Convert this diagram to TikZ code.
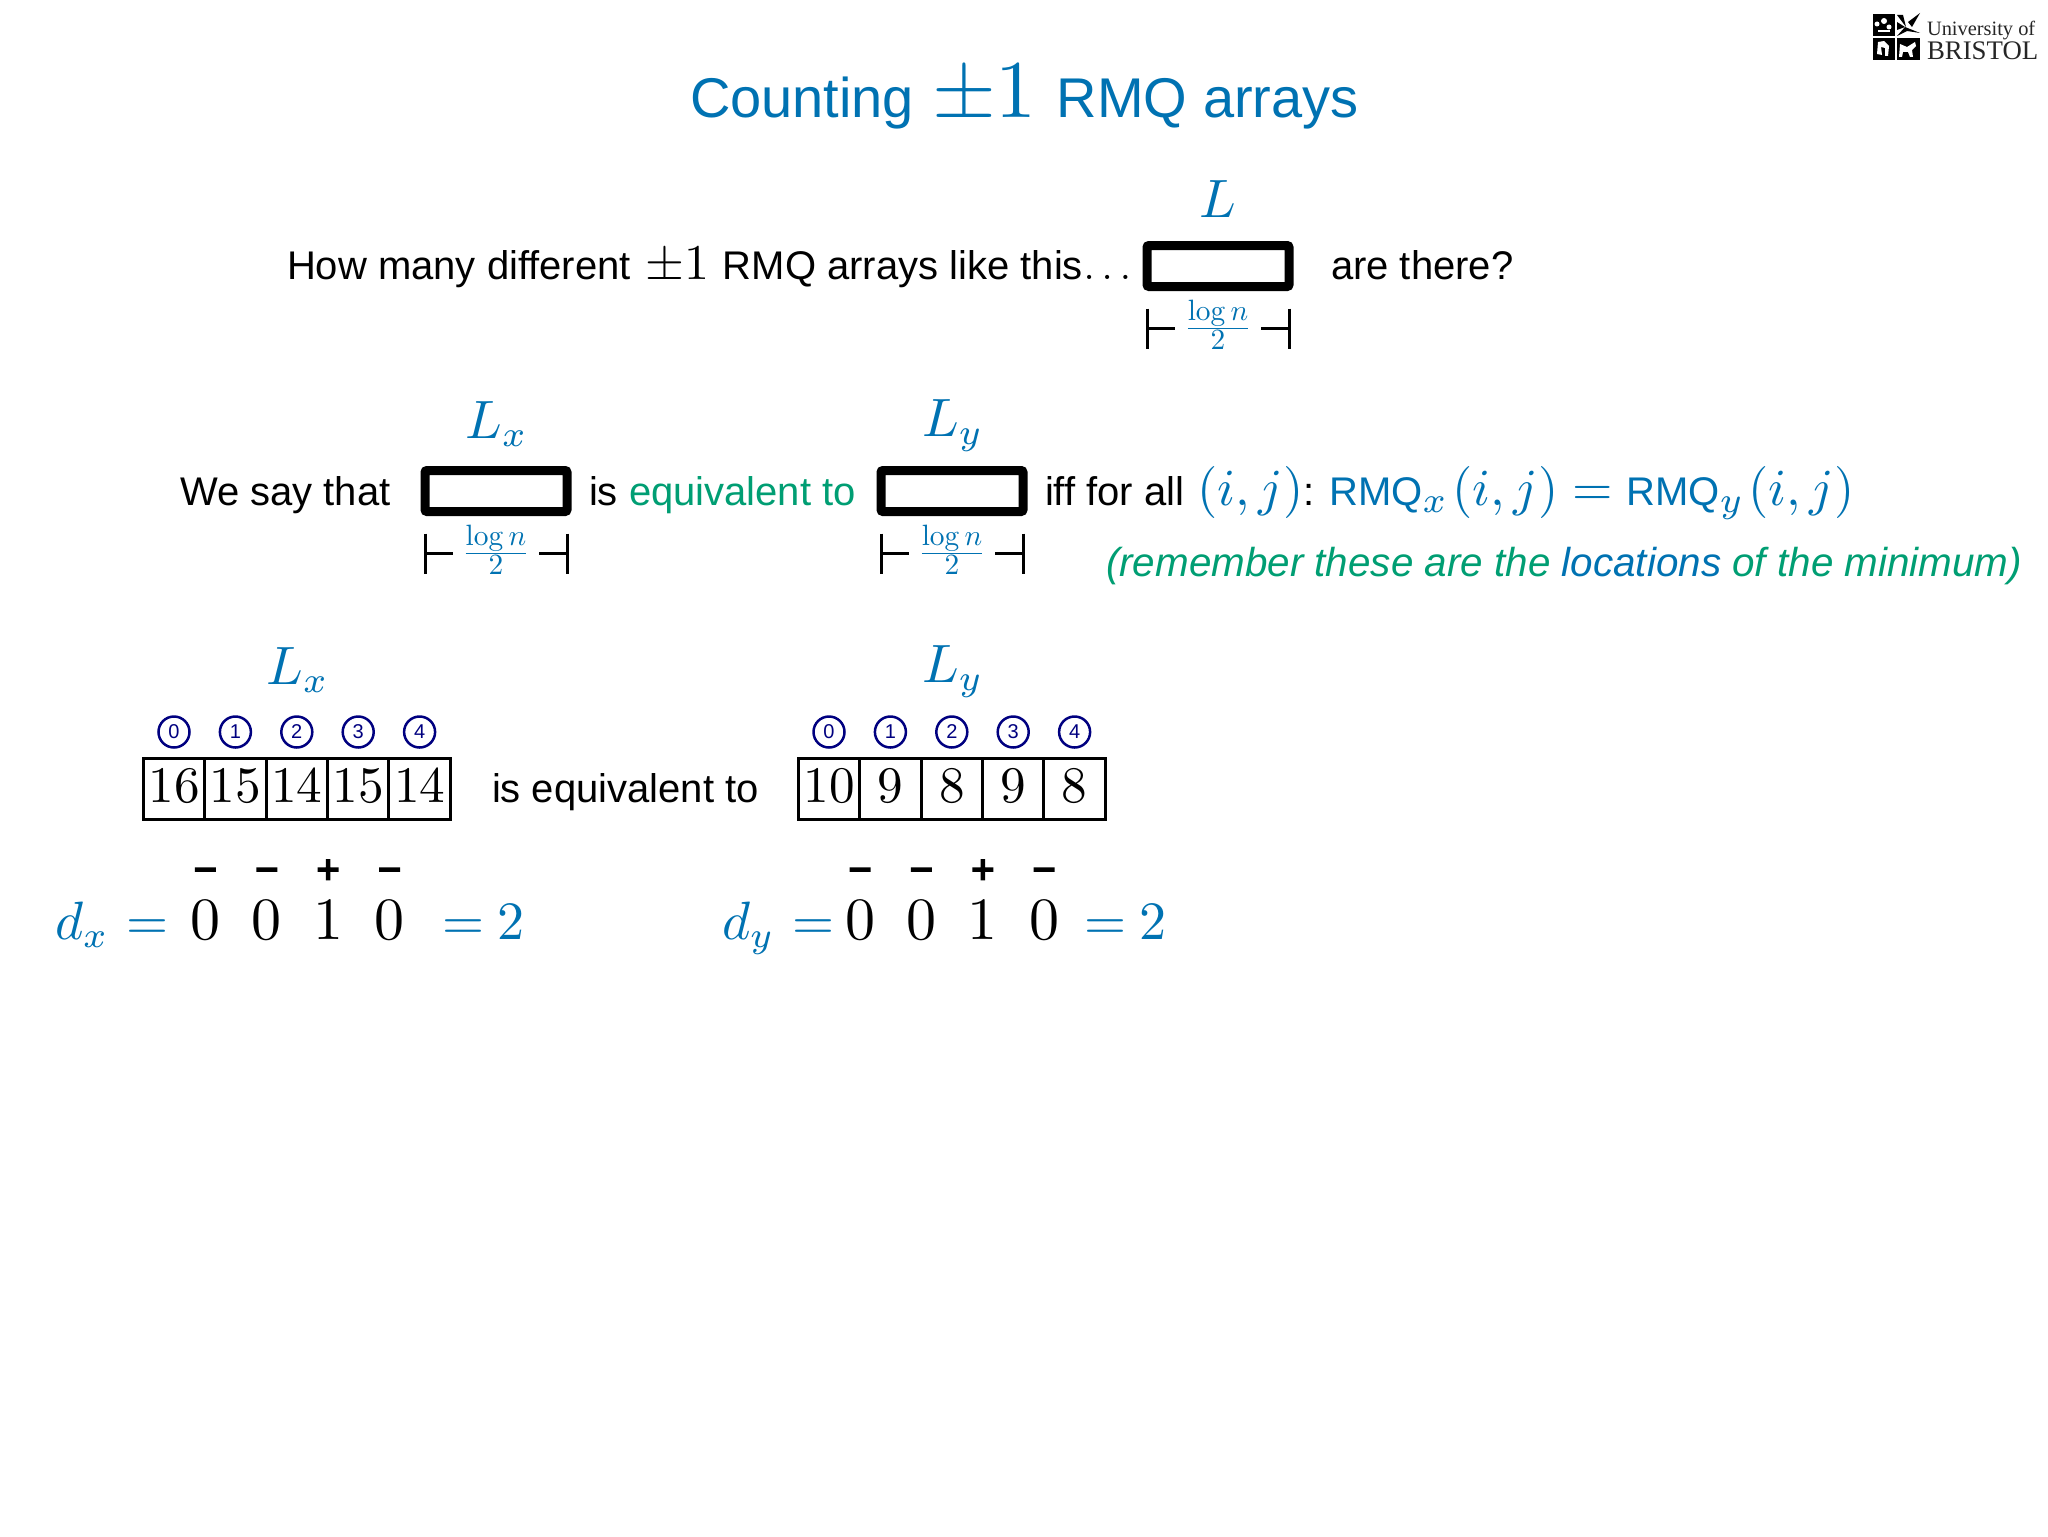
\documentclass[tikz,border=0pt]{standalone}
\usepackage[no-math]{fontspec}
\setmainfont{Liberation Sans}
\newfontfamily\logofont{Liberation Serif}
\newfontfamily\sgnfont[FakeBold=4]{Liberation Sans}
\usetikzlibrary{calc}
\DeclareFontShape{OT1}{cmr}{m}{n}{<->cmr10}{}
\DeclareFontShape{OML}{cmm}{m}{it}{<-16>cmmi10 <16-24>cmmi7 <24->cmmi10}{\skewchar\font=127 }
\DeclareFontShape{OMS}{cmsy}{m}{n}{<->cmsy10}{\skewchar\font=48 }
\DeclareFontShape{OMX}{cmex}{m}{n}{<->cmex10}{}
\DeclareMathSizes{27}{27}{18}{14}
\DeclareMathSizes{26}{26}{18}{14}
\DeclareMathSizes{21}{21}{14.7}{11}
\definecolor{tblue}{RGB}{0,114,178}
\definecolor{tgreen}{RGB}{0,158,115}
\definecolor{navy}{RGB}{0,0,128}
\newcommand{\tsize}{\fontsize{20}{24}\selectfont}
\newcommand{\msize}{\fontsize{27}{30}\selectfont}
\newcommand{\nsize}{\fontsize{26}{30}\selectfont}
\tikzset{
  txt/.style={inner sep=0pt,outer sep=0pt,anchor=base west,text=black,font=\tsize},
  mth/.style={inner sep=0pt,outer sep=0pt,anchor=base,text=tblue,font=\msize},
  thickbox/.style={draw=black,line width=4.5pt,minimum width=71pt,minimum height=20.5pt,inner sep=0pt,outer sep=0pt,rounded corners=1pt},
  dimline/.style={draw=black,line width=1.5pt},
  frc/.style={inner sep=0pt,outer sep=0pt,anchor=base,text=tblue,font=\fontsize{21}{24}\selectfont},
  cellbox/.style={draw=black,line width=1.5pt,minimum width=30.7pt,minimum height=30.5pt,inner sep=0pt,outer sep=0pt,text height=20pt,text depth=6pt,text=black,font=\fontsize{25.6}{28}\selectfont},
  idx/.style={circle,draw=navy,line width=1.25pt,minimum size=15.5pt,inner sep=0pt,outer sep=0pt,text=navy,font=\fontsize{10}{12}\selectfont},
  sgn/.style={inner sep=0pt,outer sep=0pt,anchor=base,text=black,font=\sgnfont\fontsize{20}{22}\selectfont},
  bit/.style={inner sep=0pt,outer sep=0pt,anchor=base,text=black,font=\fontsize{30}{32}\selectfont},
}
\newcommand{\dimmark}[2]{%
  \coordinate (#1L) at ([yshift=-#2 pt]#1.south west);
  \coordinate (#1R) at ([yshift=-#2 pt]#1.south east);
  \draw[dimline] ([yshift=10pt]#1L) -- ([yshift=-10pt]#1L);
  \draw[dimline] ([yshift=10pt]#1R) -- ([yshift=-10pt]#1R);
  \draw[dimline] (#1L) -- ([xshift=14pt]#1L);
  \draw[dimline] (#1R) -- ([xshift=-14pt]#1R);
  \node[frc] at ($(#1L)!0.5!(#1R)+(0,-5.25pt)$) {$\frac{\log n}{\smash{\raisebox{2.2pt}{$\scriptstyle 2$}}}$};
}
\begin{document}
\begin{tikzpicture}[x=0.5pt,y=-0.5pt]
\path[use as bounding box,fill=white] (0,0) rectangle (2048,1536);

% logo
\fill[black] (1873,14) rectangle (1894.5,36);
\fill[black] (1896.5,38) rectangle (1920,60.5);
\fill[black] (1873,38) rectangle (1894.5,60.5);
\fill[black] (1897,15) -- (1903,15) -- (1906,27) -- cycle;
\fill[black] (1908,22) -- (1920,13) -- (1912,27) -- cycle;
\fill[black] (1897,36) -- (1905,27) -- (1920,33) -- (1907,31) -- cycle;
\fill[black] (1897,22) -- (1905,27) -- (1897,30) -- cycle;
\fill[white] (1877,24) circle (2.5);
\fill[white] (1884,21) circle (3);
\fill[white] (1889,27) circle (2.5);
\fill[white] (1878,30) rectangle (1890,32);
\fill[white] (1878,42) -- (1884,41) -- (1889,46) -- (1888,56) -- (1885,56) -- (1885,48) -- (1881,47) -- (1882,55) -- (1877,54) -- cycle;
\fill[white] (1900,44) -- (1907,47) -- (1915,42) -- (1916,46) -- (1912,50) -- (1913,57) -- (1910,57) -- (1908,52) -- (1903,52) -- (1902,57) -- (1899,57) -- cycle;
\node[txt,text=black!85,font=\logofont\fontsize{10.2}{12}\selectfont] (logoa) at (1927,36) {University of};
\node[txt,text=black!85,font=\logofont\fontsize{13.4}{14}\selectfont] (logob) at (1927,60) {BRISTOL};

% title
\node[txt,text=tblue,font=\fontsize{28}{32}\selectfont] (title) at (690,117.5) {Counting\kern1.2pt{} {\fontsize{41}{44}\selectfont$\pm 1$}\kern2.2pt{} RMQ arrays};

% line 1
\node[txt] (q1) at (287,279.5) {How many different\kern2pt{} {\fontsize{25}{28}\selectfont$\pm 1$}\kern1pt{} RMQ arrays like this{\fontsize{18}{24}\selectfont$\ldots$}};
\node[thickbox] (b0) at (1218,266) {};
\node[mth] (l0) at (1218,217) {$L$};
\node[txt] (q2) at (1331,279.5) {are there?};
\dimmark{b0}{21}

% line 2
\node[txt] (w1) at (180,505) {We say that};
\node[thickbox] (b1) at (496,491) {};
\node[mth] (l1) at (496,438) {$L_x$};
\dimmark{b1}{21}
\node[txt] (w2) at (589,505) {is \textcolor{tgreen}{equivalent to}};
\node[thickbox] (b2) at (952,491) {};
\node[mth] (l2) at (952,436) {$L_y$};
\dimmark{b2}{21}
\node[txt] (w3) at (1045,505) {iff for all\kern1pt{} \textcolor{tblue}{\nsize$(i,j)$}: \textcolor{tblue}{RMQ{\nsize$_x\mkern2mu(i,j)=$}\kern1pt{} RMQ{\nsize$_y\mkern2mu(i,j)$}}};
\node[txt,text=tgreen,font=\fontsize{20.2}{24}\selectfont\itshape] (rem) at (1106,576) {(remember these are the \textcolor{tblue}{locations} of the minimum)};

% left array
\node[mth] (lx) at (297,684) {$L_x$};
\foreach \i/\v/\xx in {0/16/174,1/15/235.4,2/14/296.8,3/15/358.2,4/14/419.6}{
  \node[cellbox] (a\i) at (\xx,788.5) {$\v$};
  \node[idx] (ai\i) at (\xx,732) {\i};
}
\node[txt] (eq) at (492,802) {is equivalent to};
\node[mth,anchor=base west] (dx) at (55,939) {$d_x\mkern1.3mu =$};
\foreach \i/\s/\v/\xx in {0/−/0/205.4,1/−/0/266.8,2/+/1/328.2,3/−/0/389.6}{
  \node[sgn] (as\i) at (\xx,883) {\s};
  \node[bit] (ab\i) at (\xx,939) {$\v$};
}
\node[mth,anchor=base west] (dxr) at (442,939) {${=}\mkern4.5mu 2$};

% right array
\node[mth] (ly) at (952,682) {$L_y$};
\foreach \i/\v/\xx in {0/10/829,1/9/890.4,2/8/951.8,3/9/1013.2,4/8/1074.6}{
  \node[cellbox] (c\i) at (\xx,788.5) {$\v$};
  \node[idx] (ci\i) at (\xx,732) {\i};
}
\node[mth,anchor=base west] (dy) at (722,939) {$d_y\mkern1.3mu =$};
\foreach \i/\s/\v/\xx in {0/−/0/860,1/−/0/921.4,2/+/1/982.8,3/−/0/1044.2}{
  \node[sgn] (cs\i) at (\xx,883) {\s};
  \node[bit] (cb\i) at (\xx,939) {$\v$};
}
\node[mth,anchor=base west] (dyr) at (1084,939) {${=}\mkern4.5mu 2$};
\end{tikzpicture}
\end{document}
